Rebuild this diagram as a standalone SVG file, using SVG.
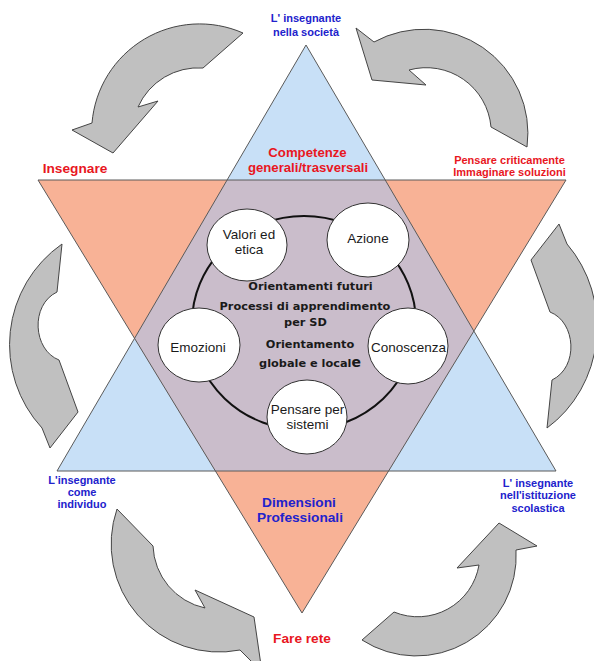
<svg xmlns="http://www.w3.org/2000/svg" width="594" height="661" viewBox="0 0 594 661">
<style>
.tri{fill:none;stroke:#5a5a5a;stroke-width:1}
.arrow{fill:#c0c0c0;stroke:#454545;stroke-width:1;stroke-linejoin:miter}
.node{fill:#ffffff;stroke:#333333;stroke-width:1}
.nl{font-family:"Liberation Sans",Arial,sans-serif;font-size:13.5px;fill:#1a1a1a;text-anchor:middle}
.ct{font-family:"DejaVu Sans",Verdana,sans-serif;font-weight:bold;font-size:11.3px;fill:#1a1a1a;text-anchor:middle}
.lbl{font-family:"Liberation Sans",Arial,sans-serif;font-weight:bold;text-anchor:middle}
.red{fill:#e8171f}
.blue{fill:#2222cc}
.big{font-size:13.7px}
.mid{font-size:13.2px}
.small{font-size:11px}
</style>
<rect x="0" y="0" width="594" height="661" fill="#ffffff"/>

<g id="triangles">
  <polygon points="306,45 57,471 556,471" fill="#c8e0f7"/>
  <polygon points="38,180 566,180 302,613" fill="#f8b296"/>
  <polygon points="227.1,180 385.2,180 473.9,331 388.6,471 215.4,471 134.5,338.3" fill="#cabdcb"/>
  <polygon class="tri" points="306,45 57,471 556,471"/>
  <polygon class="tri" points="38,180 566,180 302,613"/>
</g>

<g id="connectors">
  <ellipse cx="304" cy="323" rx="112" ry="107" fill="none" stroke="#111111" stroke-width="2"/>
  <path id="arrow-top-left" class="arrow" d="M243,33 A108,108 0 0 0 92,123 L72,130 L113,153 L158,101 L138,107 A66,66 0 0 1 203,68 Z"/>
  <path id="arrow-top-right" class="arrow" d="M527,147 A104,104 0 0 0 374,42 L356,28 L372,80 L426,85 L409,70 A65,65 0 0 1 491,127 Z"/>
  <path id="arrow-right" class="arrow" d="M547,428 A116,123 0 0 0 567,244 L559,224 L531,260 L550,312 C576,322 579,367 552,380 Z"/>
  <path id="arrow-bottom-right" class="arrow" d="M362,640 A100,100 0 0 0 516,550 L537,546 L499,523 L457,568 L479,565 A62,62 0 0 1 394,612 Z"/>
  <path id="arrow-bottom-left" class="arrow" d="M117,509 A108,108 0 0 0 240,650 L262,672 L254,617 L195,590 L205,608 A66,66 0 0 1 153,546 Z"/>
  <path id="arrow-left" class="arrow" d="M62,244 A123,123 0 0 0 42,428 L50,448 L78,412 L59,360 C33,350 30,305 57,292 Z"/>
</g>

<g id="node-valori">
  <ellipse class="node" cx="247" cy="245" rx="40" ry="36"/>
  <text class="nl" x="249" y="239">Valori ed</text>
  <text class="nl" x="249" y="254">etica</text>
</g>
<g id="node-azione">
  <ellipse class="node" cx="368" cy="240" rx="41" ry="37"/>
  <text class="nl" x="368" y="243">Azione</text>
</g>
<g id="node-emozioni">
  <ellipse class="node" cx="199" cy="345" rx="41" ry="37"/>
  <text class="nl" x="198" y="352">Emozioni</text>
</g>
<g id="node-conoscenza">
  <ellipse class="node" cx="408" cy="346" rx="40" ry="38"/>
  <text class="nl" x="408.5" y="352">Conoscenza</text>
</g>
<g id="node-pensare-sistemi">
  <ellipse class="node" cx="307" cy="417" rx="40" ry="37"/>
  <text class="nl" x="307.5" y="414">Pensare per</text>
  <text class="nl" x="307.5" y="429">sistemi</text>
</g>

<g id="center-text">
  <text class="ct" x="310.5" y="290">Orientamenti futuri</text>
  <text class="ct" x="305" y="310">Processi di apprendimento</text>
  <text class="ct" x="305.5" y="326">per SD</text>
  <text class="ct" x="310" y="348">Orientamento</text>
  <text class="ct" x="310" y="367">globale e local<tspan font-size="14px">e</tspan></text>
</g>

<g id="label-societa">
  <text class="lbl blue small" x="306" y="22">L' insegnante</text>
  <text class="lbl blue small" x="306" y="36">nella società</text>
</g>
<g id="label-competenze">
  <text class="lbl red mid" x="307.5" y="157">Competenze</text>
  <text class="lbl red mid" x="308" y="171.5">generali/trasversali</text>
</g>
<g id="label-insegnare">
  <text class="lbl red big" x="75" y="173">Insegnare</text>
</g>
<g id="label-pensare">
  <text class="lbl red small" x="509.5" y="164">Pensare criticamente</text>
  <text class="lbl red small" x="509.5" y="176">Immaginare soluzioni</text>
</g>
<g id="label-individuo">
  <text class="lbl blue small" x="82" y="484">L'insegnante</text>
  <text class="lbl blue small" x="82" y="496">come</text>
  <text class="lbl blue small" x="82" y="508">individuo</text>
</g>
<g id="label-istituzione">
  <text class="lbl blue small" x="538" y="487">L' insegnante</text>
  <text class="lbl blue small" x="538" y="499">nell'istituzione</text>
  <text class="lbl blue small" x="538" y="512">scolastica</text>
</g>
<g id="label-dimensioni">
  <text class="lbl blue big" x="299" y="507">Dimensioni</text>
  <text class="lbl blue big" x="300" y="522">Professionali</text>
</g>
<g id="label-fare-rete">
  <text class="lbl red big" x="302" y="643">Fare rete</text>
</g>
</svg>
